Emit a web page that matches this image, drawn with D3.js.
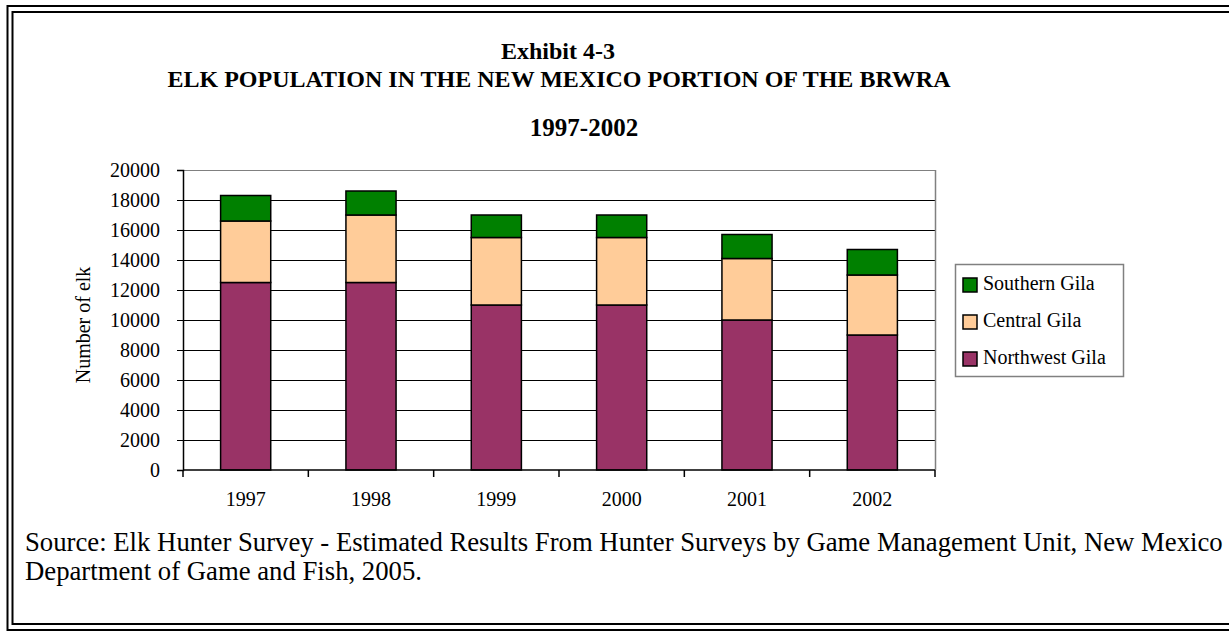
<!DOCTYPE html>
<html lang="en">

<head>
    <meta charset="UTF-8">
    <title>Elk population</title>
    <style>
        body { margin: 0; background: #fff; }
        svg { display: block; }
        svg text { font-family: "Liberation Serif", "Times New Roman", serif; }
    </style>
</head>

<script src="https://cdn.jsdelivr.net/npm/d3@7"></script>

<body>
    <div id="graphic"></div>
    <script>
        var years = ['1997', '1998', '1999', '2000', '2001', '2002'];
        var seriesNames = ['Northwest Gila', 'Central Gila', 'Southern Gila'];
        var northwest = [12500, 12500, 11000, 11000, 10000, 9000];
        var central = [4100, 4500, 4500, 4500, 4100, 4000];
        var southern = [1700, 1600, 1500, 1500, 1600, 1700];
        var yTicks = [0, 2000, 4000, 6000, 8000, 10000, 12000, 14000, 16000, 18000, 20000];
        var colors = ['#993366', '#ffcc99', '#008000'];

        var width = 1229;
        var height = 632;
        var serif = 'Liberation Serif, Times New Roman, serif';
        var plot = { left: 183, right: 935, top: 170, bottom: 470 };

        var svg = d3.select('#graphic')
            .append('svg')
            .attr('width', width)
            .attr('height', height)
            .attr('font-family', serif);

        // double frame (right edge runs off the page)
        svg.append('rect').attr('x', 7.5).attr('y', 6).attr('width', 1240).attr('height', 624)
            .attr('fill', 'none').attr('stroke', '#000').attr('stroke-width', 2);
        svg.append('rect').attr('x', 12.5).attr('y', 12).attr('width', 1230).attr('height', 612)
            .attr('fill', 'none').attr('stroke', '#000').attr('stroke-width', 2);

        // titles
        var titles = svg.append('g').attr('font-weight', 'bold').attr('font-size', 24)
            .attr('text-anchor', 'middle').attr('font-family', serif);
        titles.append('text').attr('x', 558).attr('y', 59).text('Exhibit 4-3');
        titles.append('text').attr('x', 559).attr('y', 87).text('ELK POPULATION IN THE NEW MEXICO PORTION OF THE BRWRA');
        titles.append('text').attr('x', 584).attr('y', 136).attr('font-size', 25).text('1997-2002');

        var x = d3.scaleBand().domain(years).range([plot.left, plot.right])
            .paddingInner(0.6).paddingOuter(0.3);
        var y = d3.scaleLinear().domain([0, 20000]).range([plot.bottom, plot.top]);

        // gridlines
        svg.append('g').selectAll('line')
            .data(yTicks.slice(1))
            .join('line')
            .attr('x1', plot.left).attr('x2', plot.right)
            .attr('y1', function (d) { return y(d) + 0.5 })
            .attr('y2', function (d) { return y(d) + 0.5 })
            .attr('stroke', function (d) { return d === 20000 ? '#808080' : '#000' })
            .attr('stroke-width', 1);
        svg.append('line')
            .attr('x1', plot.right + 0.5).attr('x2', plot.right + 0.5)
            .attr('y1', plot.top).attr('y2', plot.bottom)
            .attr('stroke', '#808080').attr('stroke-width', 1.5);

        // stacked bars
        var rows = years.map(function (yr, i) {
            return { year: yr, 'Northwest Gila': northwest[i], 'Central Gila': central[i], 'Southern Gila': southern[i] };
        });
        var stacked = d3.stack().keys(seriesNames)(rows);

        svg.append('g').selectAll('g')
            .data(stacked)
            .join('g')
            .attr('fill', function (d, i) { return colors[i] })
            .selectAll('rect')
            .data(function (d) { return d })
            .join('rect')
            .attr('x', function (d) { return x(d.data.year) })
            .attr('y', function (d) { return y(d[1]) })
            .attr('width', x.bandwidth())
            .attr('height', function (d) { return y(d[0]) - y(d[1]) })
            .attr('stroke', '#000')
            .attr('stroke-width', 1.5);

        // y axis
        var yAxis = svg.append('g')
            .attr('transform', 'translate(' + plot.left + ',0)')
            .call(d3.axisLeft(y).tickValues(yTicks).tickSize(6).tickPadding(17).tickFormat(d3.format('d')));
        yAxis.attr('font-family', serif).attr('font-size', 20);
        yAxis.select('.domain').attr('stroke-width', 1.5);
        yAxis.selectAll('text').attr('fill', '#000');

        // x axis, ticks sit on the category boundaries
        svg.append('line')
            .attr('x1', plot.left).attr('x2', plot.right)
            .attr('y1', plot.bottom).attr('y2', plot.bottom)
            .attr('stroke', '#000').attr('stroke-width', 1.5);
        var step = x.step();
        var boundaries = [plot.left].concat(years.map(function (d) { return x(d) + x.bandwidth() / 2 + step / 2 }));
        svg.append('g').selectAll('line')
            .data(boundaries)
            .join('line')
            .attr('x1', function (d) { return d })
            .attr('x2', function (d) { return d })
            .attr('y1', plot.bottom).attr('y2', plot.bottom + 7)
            .attr('stroke', '#000').attr('stroke-width', 1.5);
        svg.append('g').selectAll('text')
            .data(years)
            .join('text')
            .attr('x', function (d) { return x(d) + x.bandwidth() / 2 })
            .attr('y', 506)
            .attr('text-anchor', 'middle')
            .attr('font-size', 20)
            .text(function (d) { return d });

        // y title
        svg.append('text')
            .attr('transform', 'translate(90,325) rotate(-90)')
            .attr('text-anchor', 'middle')
            .attr('font-size', 20)
            .text('Number of elk');

        // legend
        var legend = svg.append('g');
        legend.append('rect').attr('x', 955.5).attr('y', 264.5).attr('width', 168).attr('height', 112)
            .attr('fill', '#fff').attr('stroke', '#808080').attr('stroke-width', 1.5);
        var legendItems = seriesNames.slice().reverse();
        legend.selectAll('g')
            .data(legendItems)
            .join('g')
            .attr('transform', function (d, i) { return 'translate(963,' + (278 + i * 37) + ')' })
            .each(function (d) {
                var g = d3.select(this);
                g.append('rect').attr('width', 14).attr('height', 14)
                    .attr('fill', colors[seriesNames.indexOf(d)])
                    .attr('stroke', '#000').attr('stroke-width', 1.5);
                g.append('text').attr('x', 20).attr('y', 12).attr('font-size', 20).text(d);
            });

        // source note, sized so the first line spans the same width as in the original
        var source = svg.append('text').attr('font-size', 24);
        var line1 = source.append('tspan').attr('x', 25).attr('y', 551)
            .text('Source: Elk Hunter Survey - Estimated Results From Hunter Surveys by Game Management Unit, New Mexico');
        source.append('tspan').attr('x', 25).attr('y', 580)
            .text('Department of Game and Fish, 2005.');
        var len = line1.node().getComputedTextLength();
        if (len > 0) source.attr('font-size', Math.min(27, 24 * 1198 / len));
    </script>
</body>

</html>
